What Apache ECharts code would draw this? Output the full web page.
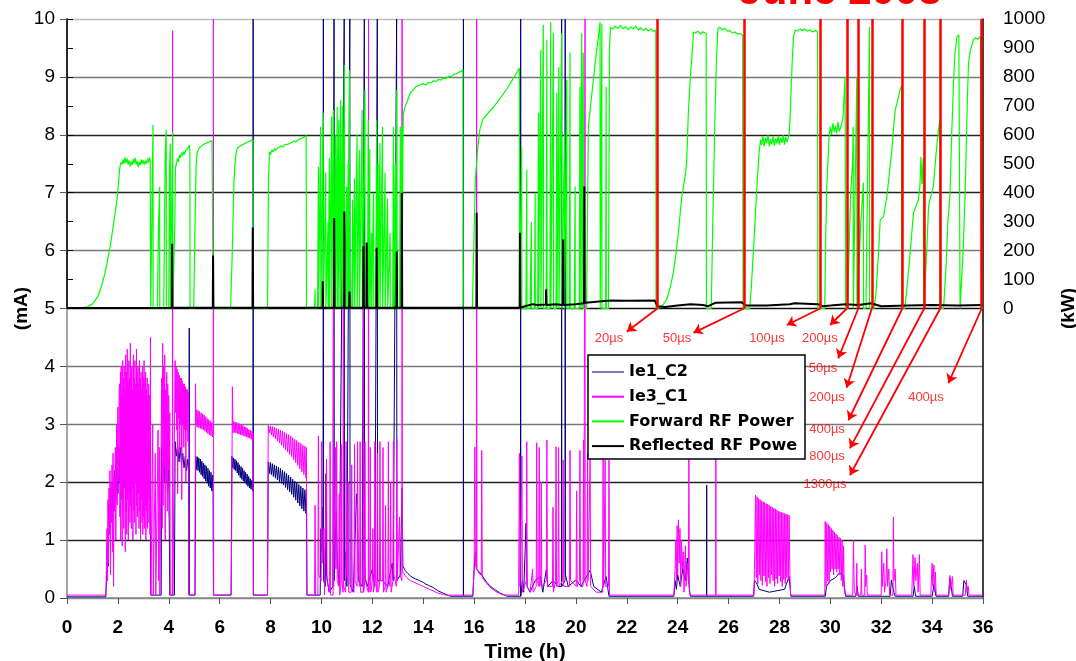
<!DOCTYPE html>
<html>
<head>
<meta charset="utf-8">
<script src="https://cdn.jsdelivr.net/npm/echarts@6/dist/echarts.min.js"></script>
<style>
  html, body { margin: 0; padding: 0; background: #fff; }
  #chart { width: 1076px; height: 661px; }
</style>
</head>
<body>
<div id="chart"></div>
<script>
// Axis ticks
const timeTicks = [0, 2, 4, 6, 8, 10, 12, 14, 16, 18, 20, 22, 24, 26, 28, 30, 32, 34, 36];
const currentTicks = [0, 1, 2, 3, 4, 5, 6, 7, 8, 9, 10];
const powerTicks = [0, 100, 200, 300, 400, 500, 600, 700, 800, 900, 1000];

// Ie1_C2 current, [time h, mA]
const ie1C2 = [
  [0,0.02],[1.52,0.02],[1.55,0.3],[1.57,0.75],[1.6,1.0],[1.62,0.55],[1.65,1.6],[1.68,1.2],[1.72,1.9],[1.76,1.4],[1.8,2.0],[1.84,1.5],[1.88,2.2],[1.92,1.7],[1.96,2.4],[2.0,1.8],[2.04,2.6],[2.08,2.0],[2.12,2.75],
  [2.16,1.7],[2.2,2.6],[2.24,1.9],[2.28,2.8],[2.32,1.6],[2.36,2.7],[2.4,2.0],[2.44,2.6],[2.48,1.8],[2.52,2.7],[2.56,1.9],[2.6,2.5],[2.64,1.7],[2.68,2.6],[2.72,2.0],[2.76,2.7],[2.8,1.8],[2.84,2.5],[2.88,1.9],[2.92,2.6],[2.96,1.7],[3.0,2.4],[3.04,1.9],[3.08,2.6],[3.12,1.8],[3.16,2.5],[3.2,2.0],[3.24,2.7],[3.27,2.75],[3.29,0.05],
  [3.7,0.05],[3.72,2.6],[3.75,1.9],[3.8,2.5],[3.85,2.0],[3.9,2.6],[3.95,1.8],[4.0,2.4],[4.04,0.05],
  [4.22,0.05],[4.25,2.7],[4.3,2.45],[4.35,2.65],[4.4,2.35],[4.45,2.6],[4.5,2.3],[4.55,2.5],[4.6,2.25],[4.65,2.45],[4.7,2.2],[4.75,2.4],[4.79,2.2],[4.8,0.05],[4.805,4.66],[4.81,0.05],
  [5.03,0.05],[5.06,2.45],[5.09,2.22],[5.12,2.44],[5.15,2.2],[5.18,2.42],[5.21,2.17],[5.24,2.4],[5.27,2.13],[5.3,2.36],[5.33,2.1],[5.36,2.33],[5.39,2.06],[5.42,2.3],[5.45,2.02],[5.48,2.27],[5.51,1.98],[5.54,2.24],[5.57,1.93],[5.6,2.2],[5.63,1.9],[5.66,2.17],[5.69,1.85],[5.72,2.12],[5.74,1.8],[5.755,0.05],
  [6.45,0.05],[6.48,2.45],[6.51,2.25],[6.54,2.42],[6.57,2.22],[6.6,2.4],[6.63,2.2],[6.66,2.37],[6.69,2.16],[6.72,2.34],[6.75,2.12],[6.78,2.3],[6.81,2.08],[6.84,2.27],[6.87,2.05],[6.9,2.24],[6.93,2.02],[6.96,2.2],[6.99,1.99],[7.02,2.17],[7.05,1.96],[7.08,2.14],[7.11,1.93],[7.14,2.1],[7.17,1.9],[7.2,2.06],[7.23,1.88],[7.26,2.03],[7.29,1.85],[7.31,2.0],[7.315,10],[7.325,0.05],
  [7.88,0.05],[7.91,2.35],[7.95,2.15],[7.99,2.34],[8.03,2.13],[8.07,2.32],[8.11,2.1],[8.15,2.3],[8.19,2.07],[8.23,2.28],[8.27,2.04],[8.31,2.26],[8.35,2.01],[8.39,2.24],[8.43,1.98],[8.47,2.21],[8.51,1.95],[8.55,2.18],[8.59,1.91],[8.63,2.15],[8.67,1.87],[8.71,2.12],[8.75,1.83],[8.79,2.09],[8.83,1.79],[8.87,2.05],[8.91,1.74],[8.95,2.02],[8.99,1.69],[9.03,1.99],[9.07,1.64],[9.11,1.96],[9.15,1.59],[9.19,1.93],[9.23,1.54],[9.27,1.9],[9.31,1.5],[9.35,1.87],[9.39,1.46],[9.41,1.8],[9.43,0.05],
  [9.7,0.05],[9.95,0.05],[9.98,1.2],[10.0,0.8],[10.03,1.57],[10.06,0.77],[10.075,10],[10.085,0.3],[10.15,0.2],[10.18,2.15],[10.2,0.4],[10.3,0.1],[10.45,0.2],[10.495,10],[10.505,0.3],[10.58,1.5],[10.62,0.67],[10.7,0.2],[10.895,10],[10.905,0.3],[10.95,0.8],[11.0,0.2],[11.115,10],[11.125,0.23],[11.25,0.1],[11.38,1.8],[11.42,1.57],[11.45,0.3],[11.6,0.2],[11.685,10],[11.695,0.4],[11.8,0.2],[12.0,0.5],[12.1,0.2],[12.195,10],[12.205,0.3],[12.4,0.3],[12.6,0.2],[12.78,0.6],[12.82,0.3],[12.955,10],[12.965,0.3],[13.1,0.4],[13.17,1.9],[13.2,0.55],
  [13.3,0.47],[13.4,0.42],[13.5,0.38],[13.6,0.35],[13.7,0.33],[13.8,0.31],[13.9,0.29],[14.0,0.27],[14.1,0.24],[14.2,0.22],[14.3,0.2],[14.4,0.18],[14.5,0.15],[14.6,0.12],[14.7,0.1],[14.8,0.08],[14.9,0.06],[15.0,0.04],[15.1,0.03],[15.575,0.03],[15.58,10],[15.585,0.03],
  [15.95,0.03],[16.0,0.5],[16.05,0.8],[16.1,0.5],[16.2,0.45],[16.3,0.4],[16.4,0.33],[16.5,0.27],[16.6,0.22],[16.7,0.18],[16.8,0.15],[16.9,0.12],[17.0,0.09],[17.1,0.07],[17.2,0.05],[17.3,0.03],
  [17.825,0.03],[17.83,10],[17.835,0.03],[17.9,0.3],[17.95,0.1],[18.04,1.29],[18.08,0.2],[18.2,0.1],[18.4,0.3],[18.6,0.37],[18.7,0.1],[18.84,0.5],[18.9,0.2],[19.1,0.3],[19.3,0.2],[19.435,0.2],[19.44,10],[19.445,0.2],[19.575,0.3],[19.58,10],[19.585,0.41],[19.7,0.2],[20.0,0.31],[20.2,0.2],[20.56,0.48],[20.7,0.2],[21.0,0.1],[21.19,0.37],[21.3,0.03],
  [23.85,0.03],[23.9,0.3],[23.95,0.15],[24.0,0.4],[24.1,0.2],[24.2,0.5],[24.3,0.3],[24.38,0.69],[24.45,0.2],[24.5,0.03],[25.135,0.03],[25.14,1.95],[25.145,0.03],
  [26.98,0.03],[27.02,0.3],[27.1,0.26],[27.2,0.15],[27.6,0.1],[28.2,0.15],[28.38,0.37],[28.45,0.03],
  [29.8,0.03],[29.85,0.2],[30.0,0.3],[30.2,0.35],[30.35,0.43],[30.5,0.4],[30.6,0.03],
  [31.0,0.03],[31.05,0.2],[31.1,0.03],[32.35,0.03],[32.4,0.31],[32.5,0.1],[32.55,0.03],[33.25,0.03],[33.3,0.2],[33.35,0.03],[34.0,0.03],[34.08,0.25],[34.15,0.03],[34.65,0.03],[34.7,0.35],[34.75,0.2],[34.8,0.03],[35.2,0.03],[35.25,0.3],[35.35,0.22],[35.4,0.03],[36,0.03]
];

// Ie3_C1 current, [time h, mA]
const ie3C1 = [
  [0,0.05],[1.53,0.05],[1.55,0.5],[1.57,1.2],[1.59,0.3],[1.61,1.7],[1.63,0.6],[1.65,1.9],[1.67,1.1],[1.69,2.2],[1.71,0.4],[1.73,2.0],[1.75,1.3],[1.77,2.3],[1.79,0.8],[1.81,2.5],[1.83,0.2],[1.85,2.1],[1.87,1.5],[1.9,2.6],[1.92,1.0],[1.95,3.0],[1.97,1.6],[2.0,3.3],[2.02,2.0],[2.05,3.6],
  [2.07,3.7],[2.08,1.4],[2.1,3.9],[2.11,1.0],[2.13,4.0],[2.14,1.8],[2.16,3.5],[2.17,0.9],[2.19,4.1],[2.2,1.6],[2.22,3.8],[2.23,1.2],[2.25,4.0],[2.26,2.0],[2.28,3.6],[2.29,0.8],[2.31,4.2],[2.32,1.5],[2.34,3.9],[2.35,1.1],[2.37,4.3],[2.38,1.7],[2.4,3.7],[2.41,1.0],[2.43,4.1],[2.44,2.1],[2.46,3.8],[2.47,1.3],[2.49,4.4],[2.5,1.6],[2.52,3.9],[2.53,1.2],[2.55,4.0],[2.56,1.9],[2.58,3.6],[2.59,1.0],[2.61,4.2],[2.62,1.5],[2.64,3.8],[2.65,1.3],[2.67,4.1],[2.68,2.0],[2.7,3.7],[2.71,1.1],[2.73,4.3],[2.74,1.6],[2.76,3.9],[2.77,1.4],[2.79,4.0],[2.8,1.8],[2.82,3.7],[2.83,1.2],[2.85,4.1],[2.86,1.5],[2.88,3.8],[2.89,1.0],[2.91,3.9],[2.92,1.7],[2.94,3.6],[2.95,1.3],[2.97,4.0],[2.98,1.1],[3.0,3.8],[3.01,1.4],[3.03,4.1],[3.04,1.2],[3.06,3.7],[3.07,1.6],[3.09,3.9],[3.1,1.0],[3.12,3.6],[3.13,1.5],[3.15,3.8],[3.16,1.2],[3.18,3.5],[3.19,1.7],[3.21,3.7],[3.22,1.3],[3.24,3.5],[3.26,1.1],[3.28,4.5],[3.3,0.05],
  [3.35,0.05],[3.37,3.0],[3.39,0.05],[3.45,0.05],[3.47,2.5],[3.49,0.05],[3.56,0.05],[3.58,2.9],[3.6,0.3],[3.63,2.6],[3.65,0.05],[3.7,0.05],[3.72,3.8],[3.74,1.2],[3.76,4.4],[3.78,1.6],[3.8,4.0],[3.82,2.3],[3.84,4.2],[3.86,1.0],[3.88,3.6],[3.9,2.0],[3.92,3.9],[3.94,1.5],[3.96,3.7],[3.98,2.2],[4.0,3.5],[4.02,1.4],[4.04,3.2],[4.06,0.05],[4.14,0.05],[4.15,9.8],[4.16,0.05],[4.22,0.05],
  [4.25,4.1],[4.27,3.2],[4.29,4.0],[4.31,2.9],[4.33,3.95],[4.35,1.8],[4.37,3.9],[4.39,3.1],[4.41,3.85],[4.43,2.5],[4.45,3.8],[4.47,3.0],[4.49,3.8],[4.51,1.7],[4.53,3.75],[4.55,3.0],[4.57,3.7],[4.59,2.6],[4.61,3.7],[4.63,2.9],[4.65,3.65],[4.67,2.0],[4.69,3.6],[4.71,2.9],[4.73,3.6],[4.75,2.7],[4.77,3.55],[4.79,2.8],[4.8,0.05],
  [5.03,0.05],[5.05,3.7],[5.07,3.0],[5.09,3.25],[5.12,2.95],[5.15,3.24],[5.18,2.94],[5.21,3.22],[5.24,2.93],[5.27,3.2],[5.3,2.92],[5.33,3.18],[5.36,2.9],[5.39,3.16],[5.42,2.88],[5.45,3.13],[5.48,2.86],[5.51,3.1],[5.54,2.84],[5.57,3.08],[5.6,2.82],[5.63,3.06],[5.66,2.8],[5.69,3.03],[5.72,2.78],[5.745,3.0],[5.755,10],[5.765,0.05],
  [6.45,0.05],[6.47,1.0],[6.5,3.65],[6.52,2.85],[6.55,3.05],[6.58,2.86],[6.61,3.04],[6.64,2.85],[6.67,3.03],[6.7,2.84],[6.73,3.02],[6.76,2.83],[6.79,3.01],[6.82,2.82],[6.85,2.99],[6.88,2.81],[6.91,2.98],[6.94,2.8],[6.97,2.96],[7.0,2.79],[7.03,2.95],[7.06,2.78],[7.09,2.93],[7.12,2.77],[7.15,2.91],[7.18,2.76],[7.21,2.9],[7.24,2.74],[7.27,2.88],[7.3,2.72],[7.31,2.85],[7.32,0.05],
  [7.88,0.05],[7.91,2.98],[7.95,2.85],[7.99,2.97],[8.03,2.82],[8.07,2.96],[8.11,2.78],[8.15,2.95],[8.19,2.75],[8.23,2.93],[8.27,2.71],[8.31,2.92],[8.35,2.68],[8.39,2.9],[8.43,2.64],[8.47,2.88],[8.51,2.6],[8.55,2.86],[8.59,2.56],[8.63,2.84],[8.67,2.52],[8.71,2.82],[8.75,2.48],[8.79,2.8],[8.83,2.44],[8.87,2.77],[8.91,2.39],[8.95,2.74],[8.99,2.34],[9.03,2.72],[9.07,2.29],[9.11,2.69],[9.15,2.23],[9.19,2.67],[9.23,2.18],[9.27,2.64],[9.31,2.13],[9.35,2.62],[9.39,2.07],[9.41,2.6],[9.43,0.05],
  [9.73,0.05],[9.75,1.6],[9.77,0.05],[9.86,0.05],[9.88,2.8],[9.9,0.4],[9.99,0.3],[10.01,2.7],[10.03,0.6],[10.1,1.2],[10.12,0.05],[10.18,0.05],[10.2,2.4],[10.22,0.3],[10.32,0.1],[10.34,2.7],[10.36,0.05],[10.46,0.05],[10.47,5.2],[10.48,0.2],[10.53,0.2],[10.55,2.6],[10.57,0.5],[10.6,2.7],[10.62,0.3],[10.68,0.2],[10.7,1.8],[10.72,0.05],[10.76,0.2],[10.78,2.65],[10.8,0.3],[10.85,0.1],[10.86,5.2],[10.87,0.2],[10.95,0.1],[10.97,2.7],[10.99,0.4],[11.03,0.3],[11.05,2.0],[11.07,0.1],[11.17,0.1],[11.19,2.3],[11.21,0.2],[11.28,0.1],[11.3,2.65],[11.32,0.3],[11.4,0.2],[11.42,2.7],[11.44,0.5],[11.5,0.2],[11.52,2.7],[11.54,0.1],[11.64,0.1],[11.65,5.1],[11.66,0.1],[11.69,0.2],[11.71,2.7],[11.73,0.3],[11.84,0.1],[11.85,10],[11.86,0.1],[11.9,0.2],[11.92,2.6],[11.94,0.1],[12.0,0.3],[12.02,1.2],[12.04,0.1],[12.08,0.2],[12.1,2.7],[12.12,0.4],[12.18,0.1],[12.2,2.5],[12.22,0.1],[12.28,0.2],[12.3,2.7],[12.32,0.3],[12.4,0.3],[12.42,2.6],[12.44,0.1],[12.5,0.2],[12.52,1.6],[12.54,0.1],[12.61,0.2],[12.63,2.7],[12.65,0.3],[12.7,0.2],[12.72,2.0],[12.74,0.1],[12.81,0.3],[12.83,2.7],[12.85,0.4],[12.94,0.2],[12.96,2.75],[12.98,0.3],[13.05,0.3],[13.07,1.4],[13.09,0.4],[13.16,0.3],[13.17,10],[13.18,0.5],[13.2,0.45],
  [13.3,0.38],[13.4,0.33],[13.5,0.3],[13.6,0.28],[13.7,0.26],[13.8,0.24],[13.9,0.22],[14.0,0.2],[14.1,0.18],[14.2,0.16],[14.3,0.14],[14.4,0.12],[14.5,0.1],[14.6,0.08],[14.7,0.07],[14.8,0.06],[14.9,0.05],[15.95,0.05],
  [16.0,0.5],[16.03,2.61],[16.05,0.6],[16.09,0.5],[16.1,10],[16.11,0.5],[16.2,0.42],[16.28,0.4],[16.3,2.55],[16.32,0.36],[16.4,0.3],[16.5,0.25],[16.6,0.2],[16.7,0.16],[16.8,0.13],[16.9,0.1],[17.0,0.08],[17.1,0.06],[17.2,0.05],[17.75,0.05],
  [17.78,2.5],[17.8,0.2],[17.88,2.45],[17.9,0.1],[18.05,0.3],[18.07,2.7],[18.09,0.2],[18.2,0.1],[18.3,0.5],[18.32,0.1],[18.44,0.2],[18.46,2.68],[18.48,0.3],[18.54,0.2],[18.56,2.6],[18.58,0.2],[18.62,0.3],[18.64,2.0],[18.66,0.2],[18.84,0.3],[18.86,2.73],[18.88,0.2],[19.08,0.2],[19.1,1.57],[19.12,0.1],[19.2,0.3],[19.22,2.61],[19.24,0.2],[19.3,0.3],[19.32,2.6],[19.34,0.2],[19.48,0.3],[19.5,2.38],[19.52,0.2],[19.75,0.2],[19.77,2.55],[19.79,0.3],[20.01,0.2],[20.03,1.85],[20.05,0.2],[20.14,0.3],[20.16,2.55],[20.18,0.2],[20.28,0.2],[20.3,2.73],[20.32,0.3],[20.355,0.3],[20.36,10],[20.365,0.3],[20.44,0.2],[20.46,2.5],[20.48,0.3],[20.54,0.3],[20.56,2.4],[20.58,0.2],[20.8,0.1],[21.05,0.1],[21.07,2.4],[21.09,0.2],[21.13,0.2],[21.15,2.38],[21.17,0.2],[21.28,0.2],[21.3,2.38],[21.32,0.05],
  [23.85,0.05],[23.9,0.5],[23.93,1.0],[23.95,0.3],[23.98,1.25],[24.0,0.4],[24.03,1.35],[24.06,0.6],[24.09,1.2],[24.12,0.2],[24.15,1.0],[24.18,0.5],[24.22,0.8],[24.25,0.1],[24.3,0.9],[24.33,0.2],[24.38,0.6],[24.42,0.3],[24.44,2.47],[24.46,0.1],[24.5,0.05],[25.49,0.05],[25.5,2.47],[25.51,0.05],
  [27.0,0.05],[27.03,0.8],[27.06,1.78],[27.09,0.35],[27.12,1.75],[27.15,0.25],[27.18,1.72],[27.21,0.4],[27.24,1.7],[27.27,0.3],[27.3,1.68],[27.33,0.22],[27.36,1.66],[27.39,0.38],[27.42,1.65],[27.45,0.28],[27.48,1.63],[27.51,0.2],[27.54,1.62],[27.57,0.35],[27.6,1.6],[27.63,0.25],[27.66,1.58],[27.69,0.4],[27.72,1.57],[27.75,0.3],[27.78,1.55],[27.81,0.2],[27.84,1.54],[27.87,0.33],[27.9,1.52],[27.93,0.25],[27.96,1.5],[27.99,0.38],[28.02,1.49],[28.05,0.28],[28.08,1.48],[28.11,0.2],[28.14,1.47],[28.17,0.32],[28.2,1.46],[28.23,0.25],[28.26,1.45],[28.29,0.35],[28.32,1.44],[28.35,0.3],[28.38,1.43],[28.41,0.4],[28.44,0.05],
  [29.78,0.05],[29.8,1.32],[29.83,0.2],[29.86,1.3],[29.89,0.3],[29.92,1.27],[29.95,0.25],[29.98,1.24],[30.01,0.45],[30.04,1.2],[30.07,0.5],[30.1,1.17],[30.13,0.4],[30.16,1.14],[30.19,0.5],[30.22,1.11],[30.25,0.45],[30.28,1.08],[30.31,0.5],[30.34,1.05],[30.37,0.4],[30.4,1.03],[30.43,0.3],[30.46,1.0],[30.49,0.2],[30.52,0.9],[30.55,0.1],[30.6,0.05],
  [30.88,0.05],[30.91,1.0],[30.94,0.1],[31.02,0.05],[31.04,0.6],[31.06,0.05],[31.2,0.05],[31.22,0.5],[31.24,0.05],[31.35,0.05],[31.37,0.91],[31.39,0.2],[31.43,0.4],[31.45,0.05],[32.0,0.05],[32.02,0.8],[32.05,0.2],[32.1,0.6],[32.13,0.1],[32.19,0.3],[32.22,0.85],[32.25,0.2],[32.3,0.5],[32.33,0.05],[32.46,0.05],[32.48,1.4],[32.5,0.3],[32.55,0.5],[32.58,0.05],[33.2,0.05],[33.25,0.75],[33.28,0.2],[33.33,0.7],[33.36,0.3],[33.42,0.6],[33.45,0.1],[33.5,0.75],[33.53,0.05],[33.95,0.05],[34.0,0.6],[34.03,0.2],[34.07,0.57],[34.1,0.1],[34.13,0.45],[34.16,0.05],[34.65,0.05],[34.7,0.39],[34.73,0.15],[34.8,0.37],[34.83,0.05],[35.3,0.05],[35.35,0.31],[35.38,0.1],[35.42,0.2],[35.45,0.05],[36,0.05]
];

// Forward RF power, [time h, kW]
const forwardRF = [
  [0,0],[0.5,2],[0.8,6],[1.0,15],[1.2,40],[1.35,75],[1.5,125],[1.6,170],[1.7,215],[1.8,275],[1.9,335],[1.97,380],[2.03,440],[2.08,490],[2.12,505],[2.16,498],[2.2,515],[2.24,500],[2.28,522],[2.32,503],[2.36,518],[2.4,497],[2.44,512],[2.48,490],[2.52,508],[2.56,495],[2.6,516],[2.64,502],[2.68,520],[2.72,498],[2.76,510],[2.8,488],[2.84,506],[2.88,495],[2.92,515],[2.96,500],[3.0,512],[3.04,496],[3.08,510],[3.12,500],[3.16,518],[3.2,505],[3.24,522],[3.27,512],[3.29,0],
  [3.36,0],[3.38,634],[3.385,0],[3.55,0],[3.6,300],[3.64,420],[3.645,0],[3.8,0],[3.86,540],[3.9,617],[3.905,0],[4.0,0],[4.03,480],[4.06,570],[4.065,0],[4.13,0],[4.15,610],[4.155,0],
  [4.2,0],[4.24,300],[4.26,486],[4.3,500],[4.34,518],[4.38,506],[4.42,530],[4.46,520],[4.5,538],[4.54,528],[4.58,542],[4.62,532],[4.66,546],[4.7,540],[4.74,552],[4.78,548],[4.81,565],[4.83,545],[4.835,0],
  [4.98,0],[5.03,280],[5.07,480],[5.11,537],[5.15,545],[5.2,556],[5.25,550],[5.3,562],[5.35,556],[5.4,568],[5.45,562],[5.5,572],[5.55,566],[5.6,576],[5.65,572],[5.7,580],[5.74,585],[5.745,0],
  [6.43,0],[6.5,210],[6.56,440],[6.62,520],[6.67,548],[6.72,556],[6.77,552],[6.82,562],[6.87,557],[6.92,567],[6.97,562],[7.02,572],[7.07,567],[7.12,576],[7.17,572],[7.22,580],[7.27,578],[7.31,583],[7.315,0],
  [7.88,0],[7.92,450],[7.96,541],[8.0,532],[8.05,548],[8.1,540],[8.15,553],[8.2,546],[8.3,556],[8.35,550],[8.4,561],[8.5,558],[8.55,566],[8.6,562],[8.7,568],[8.8,572],[8.85,568],[8.9,578],[9.0,575],[9.1,584],[9.2,587],[9.3,592],[9.4,597],[9.41,0],
  [9.73,0],[9.75,66],[9.755,0],[9.85,0],[9.88,490],[9.885,0],[9.94,0],[9.97,628],[9.975,0],[10.03,0],[10.07,676],[10.075,0],[10.14,0],[10.17,469],[10.175,0],[10.23,0],[10.26,300],[10.265,0],[10.29,0],[10.31,520],[10.315,0],
  [10.37,0],[10.4,662],[10.405,0],[10.44,0],[10.47,686],[10.475,0],[10.52,0],[10.55,600],[10.555,0],[10.59,0],[10.62,697],[10.625,0],[10.66,0],[10.68,650],[10.685,0],[10.72,0],[10.75,721],[10.755,0],[10.79,0],[10.82,700],[10.825,0],
  [10.86,0],[10.9,841],[10.905,0],[10.96,0],[10.99,421],[10.995,0],[11.02,0],[11.05,500],[11.055,0],[11.07,0],[11.1,824],[11.105,0],[11.19,0],[11.22,376],[11.225,0],[11.27,0],[11.3,450],[11.305,0],[11.37,0],[11.4,600],[11.405,0],
  [11.46,0],[11.49,548],[11.495,0],[11.57,0],[11.6,686],[11.605,0],[11.68,0],[11.71,755],[11.715,0],[11.81,0],[11.84,652],[11.845,0],[11.88,0],[11.9,550],[11.905,0],[11.95,0],[11.97,262],[11.975,0],[12.03,0],[12.05,400],[12.055,0],
  [12.14,0],[12.17,652],[12.175,0],[12.2,0],[12.23,500],[12.235,0],[12.27,0],[12.3,572],[12.305,0],[12.37,0],[12.4,628],[12.405,0],[12.47,0],[12.5,469],[12.505,0],[12.58,0],[12.6,380],[12.605,0],[12.68,0],[12.7,262],[12.705,0],
  [12.8,0],[12.83,628],[12.835,0],[12.88,0],[12.9,500],[12.905,0],[12.93,0],[12.96,755],[12.965,0],[13.07,0],[13.1,628],[13.105,0],[13.14,0],[13.16,628],[13.165,0],
  [13.18,0],[13.2,560],[13.22,670],[13.26,690],[13.3,700],[13.35,712],[13.4,722],[13.45,735],[13.5,745],[13.55,742],[13.6,755],[13.65,760],[13.7,765],[13.8,770],[13.85,766],[13.9,774],[14.0,776],[14.1,772],[14.2,781],[14.3,779],[14.4,786],[14.5,784],[14.6,791],[14.7,789],[14.8,796],[14.9,795],[15.0,802],[15.1,800],[15.2,809],[15.3,811],[15.4,817],[15.5,819],[15.56,826],[15.57,0],
  [15.93,0],[15.97,150],[16.05,450],[16.15,560],[16.22,615],[16.3,641],[16.35,655],[16.4,650],[16.45,665],[16.5,668],[16.6,680],[16.7,690],[16.8,700],[16.9,712],[17.0,723],[17.1,735],[17.2,748],[17.3,760],[17.4,774],[17.5,789],[17.6,804],[17.7,818],[17.78,831],[17.785,0],
  [17.84,0],[17.87,559],[17.875,0],[18.04,0],[18.07,479],[18.075,0],[18.2,0],[18.25,300],[18.255,0],[18.37,0],[18.4,400],[18.405,0],[18.5,0],[18.53,676],[18.535,0],[18.59,0],[18.62,893],[18.625,0],[18.69,0],[18.72,979],[18.725,0],
  [18.83,0],[18.86,928],[18.865,0],[18.98,0],[19.01,990],[19.015,0],[19.09,0],[19.12,952],[19.125,0],[19.22,0],[19.25,745],[19.255,0],[19.3,0],[19.33,834],[19.335,0],[19.41,0],[19.44,952],[19.445,0],[19.52,0],[19.55,600],[19.555,0],
  [19.61,0],[19.64,790],[19.645,0],[19.74,0],[19.77,883],[19.775,0],[19.94,0],[19.97,421],[19.975,0],[20.13,0],[20.16,766],[20.165,0],[20.2,0],[20.23,952],[20.235,0],[20.27,0],[20.29,883],[20.295,0],
  [20.42,0],[20.49,628],[20.6,720],[20.7,800],[20.8,880],[20.9,950],[20.95,990],[20.955,0],[21.0,0],[21.02,983],[21.025,0],[21.17,0],[21.19,766],[21.195,0],
  [21.28,0],[21.32,900],[21.36,972],[21.45,965],[21.55,975],[21.65,968],[21.75,978],[21.85,966],[21.95,974],[22.05,963],[22.15,972],[22.25,966],[22.35,975],[22.45,962],[22.55,970],[22.65,960],[22.75,968],[22.85,958],[22.95,966],[23.05,957],[23.14,962],[23.15,0],
  [23.24,0],[23.4,10],[23.57,31],[23.7,70],[23.83,124],[23.95,200],[24.03,262],[24.1,330],[24.16,386],[24.29,455],[24.35,503],[24.42,676],[24.5,800],[24.55,859],[24.62,955],[24.7,952],[24.8,958],[24.9,948],[25.0,956],[25.12,950],[25.13,0],
  [25.32,0],[25.38,300],[25.45,600],[25.52,850],[25.58,965],[25.65,972],[25.75,962],[25.85,968],[25.95,958],[26.05,960],[26.15,952],[26.25,955],[26.35,948],[26.45,950],[26.55,944],[26.57,0],
  [26.83,0],[26.9,80],[26.98,203],[27.1,400],[27.2,540],[27.26,583],[27.3,565],[27.35,595],[27.4,560],[27.45,590],[27.5,570],[27.55,598],[27.6,560],[27.65,585],[27.7,568],[27.75,595],[27.8,562],[27.85,588],[27.9,570],[27.95,596],[28.0,565],[28.05,590],[28.1,572],[28.15,598],[28.2,566],[28.25,592],[28.3,575],[28.38,600],[28.42,662],[28.5,850],[28.55,938],[28.62,962],[28.7,958],[28.8,966],[28.9,960],[29.0,965],[29.1,958],[29.2,962],[29.3,955],[29.4,960],[29.5,958],[29.51,0],
  [29.78,0],[29.82,250],[29.86,421],[29.95,590],[30.0,628],[30.05,600],[30.1,640],[30.15,610],[30.2,630],[30.25,605],[30.3,645],[30.35,612],[30.4,625],[30.45,640],[30.5,660],[30.58,800],[30.6,0],
  [30.68,0],[30.75,250],[30.8,400],[30.87,500],[30.9,628],[30.905,0],[30.97,0],[31.04,800],[31.045,0],[31.12,0],[31.2,300],[31.3,434],[31.305,0],[31.4,0],[31.5,700],[31.54,972],[31.545,0],
  [31.72,0],[31.8,60],[31.9,200],[31.96,307],[32.02,310],[32.09,317],[32.15,350],[32.22,386],[32.3,450],[32.42,548],[32.5,640],[32.55,686],[32.65,720],[32.74,755],[32.8,770],[32.81,0],
  [32.92,0],[33.0,60],[33.14,193],[33.2,260],[33.27,331],[33.35,350],[33.46,376],[33.52,420],[33.56,524],[33.6,430],[33.65,520],[33.67,0],
  [33.72,0],[33.8,220],[33.86,352],[33.95,390],[34.05,421],[34.15,530],[34.25,617],[34.3,650],[34.31,0],
  [34.45,0],[34.55,150],[34.62,300],[34.7,386],[34.77,600],[34.84,779],[34.9,880],[34.97,938],[35.05,945],[35.1,0],
  [35.15,0],[35.22,200],[35.3,400],[35.38,700],[35.43,848],[35.5,890],[35.62,928],[35.7,935],[35.8,930],[35.9,940],[35.94,938],[35.95,0],[36,0]
];

// Reflected RF power, [time h, kW]
const reflectedRF = [
  [0,2],[4.12,3],[4.13,224],[4.145,3],[5.73,3],[5.74,183],[5.755,3],[7.29,3],[7.3,280],[7.315,3],
  [10.04,3],[10.05,94],[10.065,3],[10.49,3],[10.5,313],[10.515,3],[10.89,3],[10.9,335],[10.915,3],[11.09,3],[11.1,59],[11.115,3],
  [11.64,3],[11.65,215],[11.665,3],[11.77,3],[11.78,228],[11.795,3],[12.16,3],[12.17,210],[12.185,3],[12.95,3],[12.96,197],[12.975,3],[13.15,3],[13.16,400],[13.175,3],
  [16.09,3],[16.1,331],[16.115,3],[17.79,3],[17.8,262],[17.815,3],[18.0,8],[18.3,15],[18.5,12],[18.82,14],[18.83,66],[18.845,12],[19.2,15],[19.49,12],[19.5,238],[19.515,12],
  [20.0,15],[20.32,18],[20.33,421],[20.345,20],[20.6,22],[21.0,25],[21.4,28],[22.0,27],[23.1,28],[23.2,8],[23.5,5],[24.0,10],[24.5,15],[25.0,12],[25.2,8],[25.5,20],[26.5,22],[26.7,10],[27.5,10],[28.4,15],[28.6,18],[29.5,15],[29.7,8],[30.0,10],[30.6,15],[31.1,12],[31.6,18],[32.0,8],[33.0,10],[34.0,12],[35.0,10],[36,12]
];

// Pulse-length annotations: marker times (h), arrow tips and label anchors [h, mA]
const markerTimes = [23.2, 26.6, 29.6, 30.65, 31.1, 31.63, 32.83, 33.69, 34.32, 35.95];
const arrowTips = [[22.0,4.6],[24.62,4.58],[28.29,4.715],[29.99,4.715],[30.31,4.14],[30.64,3.63],[30.71,3.07],[30.77,2.585],[30.77,2.12],[34.64,3.71]];
const pulseLabels = ['20µs','50µs','100µs','200µs','50µs','200µs','400µs','800µs','1300µs','400µs'];
const labelAnchors = [[21.3,4.49],[23.97,4.49],[27.51,4.49],[29.59,4.49],[29.71,3.97],[29.87,3.46],[29.87,2.92],[29.87,2.44],[29.79,1.97],[33.76,3.47]];

const FONT = '"Liberation Sans", Arial, sans-serif';

const markerLines = markerTimes.map(t => ({ coords: [[t, currentTicks[5]], [t, currentTicks[10]]] }));
const arrowLines = markerTimes.map((t, i) => ({ coords: [[t, currentTicks[5]], arrowTips[i]] }));
const labelPoints = pulseLabels.map((s, i) => ({ name: s, value: labelAnchors[i] }));

const chart = echarts.init(document.getElementById('chart'), null, { renderer: 'canvas' });

chart.setOption({
  animation: false,
  backgroundColor: '#ffffff',
  textStyle: { fontFamily: FONT },
  graphic: [{
    type: 'text',
    x: 840, y: -8, z: 50,
    style: { text: 'June 2008', fill: '#ff0000', font: 'bold 42px "Liberation Sans", Arial', align: 'center', verticalAlign: 'middle' }
  }],
  grid: [
    { left: 67, right: 93, top: 19, bottom: 63, containLabel: false, outerBoundsMode: 'none' },
    { left: 67, right: 93, top: 19, height: 289.5, containLabel: false, outerBoundsMode: 'none' }
  ],
  legend: {
    orient: 'vertical', left: 588, top: 355, z: 20,
    icon: 'rect', itemWidth: 32, itemHeight: 2, itemGap: 4.7,
    padding: [7, 4, 3, 4],
    backgroundColor: '#ffffff', borderColor: '#000000', borderWidth: 1.5, borderRadius: 0,
    textStyle: { fontFamily: '"DejaVu Sans", sans-serif', fontWeight: 'bold', fontSize: 16, color: '#000', width: 172, overflow: 'truncate', ellipsis: '', lineHeight: 20 },
    data: [
      { name: 'Ie1_C2', itemStyle: { color: '#7a7ac2' } },
      { name: 'Ie3_C1' },
      { name: 'Forward RF Power' },
      { name: 'Reflected RF Power' }
    ]
  },
  xAxis: [
    {
      gridIndex: 0, type: 'value', min: timeTicks[0], max: timeTicks[timeTicks.length - 1], interval: timeTicks[1] - timeTicks[0],
      name: 'Time (h)', nameLocation: 'middle', nameGap: 42,
      nameTextStyle: { fontSize: 21, fontWeight: 'bold', color: '#000', fontFamily: FONT },
      axisLine: { show: true, lineStyle: { color: '#888', width: 1.5 } },
      axisTick: { show: true, length: 6, lineStyle: { color: '#555' } },
      axisLabel: { fontSize: 19, fontWeight: 'bold', color: '#000', margin: 20, fontFamily: FONT },
      splitLine: { show: false }
    },
    { gridIndex: 1, type: 'value', min: timeTicks[0], max: timeTicks[timeTicks.length - 1], show: false }
  ],
  yAxis: [
    {
      gridIndex: 0, type: 'value', position: 'left', min: currentTicks[0], max: currentTicks[currentTicks.length - 1], interval: 1,
      name: '(mA)', nameLocation: 'middle', nameGap: 36, nameRotate: 90, nameMoveOverlap: false,
      nameTextStyle: { fontSize: 19, fontWeight: 'bold', color: '#000', fontFamily: FONT },
      axisLine: { show: true, lineStyle: { color: '#888', width: 1.5 } },
      axisTick: { show: true, length: 7, lineStyle: { color: '#555' } },
      axisLabel: { fontSize: 19, color: '#000', margin: 12, fontFamily: FONT },
      splitLine: { show: true, lineStyle: { color: ['#888', '#222', '#222', '#777', '#777', '#111', '#777', '#222', '#222', '#777', '#bbb'], width: 1.3 } }
    },
    {
      gridIndex: 0, type: 'value', position: 'right', min: currentTicks[0], max: currentTicks[currentTicks.length - 1],
      name: '(kW)', nameLocation: 'middle', nameGap: 76, nameRotate: 90,
      nameTextStyle: { fontSize: 19, fontWeight: 'bold', color: '#000', fontFamily: FONT },
      axisLine: { show: true, lineStyle: { color: '#000', width: 1.5 } },
      axisTick: { show: false }, axisLabel: { show: false }, splitLine: { show: false }
    },
    {
      gridIndex: 1, type: 'value', position: 'right', min: powerTicks[0], max: powerTicks[powerTicks.length - 1], interval: powerTicks[1] - powerTicks[0],
      axisLine: { show: true, lineStyle: { color: '#000', width: 1.5 } },
      axisTick: { show: true, length: 6, lineStyle: { color: '#000' } },
      axisLabel: { fontSize: 19, color: '#000', margin: 20, fontFamily: FONT, formatter: v => String(v) },
      splitLine: { show: false }
    }
  ],
  series: [
    { name: 'Ie1_C2', type: 'line', xAxisIndex: 0, yAxisIndex: 0, data: ie1C2, symbol: 'none', showSymbol: false, z: 2,
      lineStyle: { color: '#000080', width: 1 }, itemStyle: { color: '#000080' } },
    { name: 'Ie3_C1', type: 'line', xAxisIndex: 0, yAxisIndex: 0, data: ie3C1, symbol: 'none', showSymbol: false, z: 3,
      lineStyle: { color: '#ff00ff', width: 1 }, itemStyle: { color: '#ff00ff' } },
    { name: 'Forward RF Power', type: 'line', xAxisIndex: 1, yAxisIndex: 2, data: forwardRF, symbol: 'none', showSymbol: false, z: 4,
      lineStyle: { color: '#00ff00', width: 1.2 }, itemStyle: { color: '#00ff00' } },
    { name: 'Reflected RF Power', type: 'line', xAxisIndex: 1, yAxisIndex: 2, data: reflectedRF, symbol: 'none', showSymbol: false, z: 5,
      lineStyle: { color: '#000000', width: 2 }, itemStyle: { color: '#000000' } },
    { type: 'lines', coordinateSystem: 'cartesian2d', xAxisIndex: 0, yAxisIndex: 0, data: markerLines, silent: true, z: 6,
      lineStyle: { color: '#ff0000', width: 2.5, opacity: 1 } },
    { type: 'lines', coordinateSystem: 'cartesian2d', xAxisIndex: 0, yAxisIndex: 0, data: arrowLines, silent: true, z: 6,
      symbol: ['none', 'arrow'], symbolSize: 9,
      lineStyle: { color: '#ff0000', width: 1.8, opacity: 1 } },
    { type: 'scatter', xAxisIndex: 0, yAxisIndex: 0, data: labelPoints, symbolSize: 0, silent: true, z: 7,
      label: { show: true, position: 'inside', formatter: '{b}', color: '#ff0000', fontSize: 13, fontFamily: FONT } }
  ]
});
</script>
</body>
</html>
